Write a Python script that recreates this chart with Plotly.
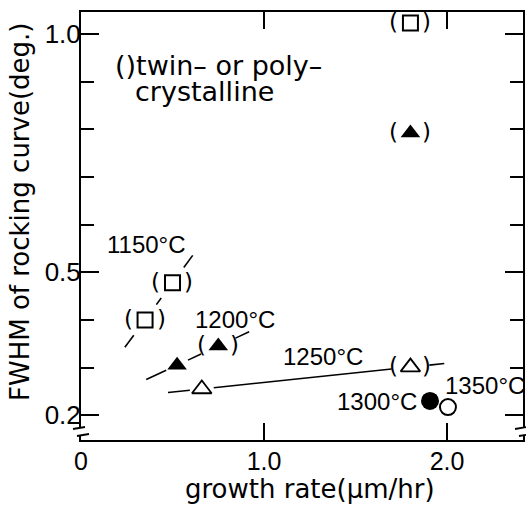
import math
import plotly.graph_objects as go

# ---------------- data ----------------
x_1150 = [0.35, 0.50, 1.80]
y_1150 = [0.400, 0.478, 1.023]
paren_1150 = [True, True, True]

x_1200 = [0.525, 0.75, 1.80]
y_1200 = [0.305, 0.345, 0.792]
paren_1200 = [False, True, True]

x_1250 = [0.66, 1.80]
y_1250 = [0.255, 0.301]
paren_1250 = [False, True]

x_1300 = [1.907]
y_1300 = [0.230]

x_1350 = [2.005]
y_1350 = [0.217]

# number of leading points joined by the guide line in each series
guide_1150 = 2
guide_1200 = 2
guide_1250 = 2

temp_labels = ["1150°C", "1200°C", "1250°C", "1300°C", "1350°C"]
label_x = [0.131, 0.612, 1.093, 1.388, 1.978]
label_y = [0.559, 0.400, 0.324, 0.228, 0.263]

y_tick_vals = [0.2, 0.5, 1.0]
y_tick_text = ["0.2", "0.5", "1.0"]
y_minor_vals = [0.3, 0.4, 0.6, 0.7, 0.8, 0.9]
x_tick_vals = [0, 1, 2]
x_tick_text = ["0", "1.0", "2.0"]

# ---------------- layout geometry ----------------
W, H = 526, 508
ML, MR, MT, MB = 81, 3, 12, 68
PW, PH = W - ML - MR, H - MT - MB
X_RANGE = [0.0, 2.415]
Y_RANGE = [0.148, 1.046]

WORD_FONT = "DejaVu Sans"
NUM_FONT = "Liberation Sans, Arial"


def to_px(x, y):
    px = ML + (x - X_RANGE[0]) / (X_RANGE[1] - X_RANGE[0]) * PW
    py = MT + (Y_RANGE[1] - y) / (Y_RANGE[1] - Y_RANGE[0]) * PH
    return px, py


def to_data(px, py):
    x = X_RANGE[0] + (px - ML) / PW * (X_RANGE[1] - X_RANGE[0])
    y = Y_RANGE[1] - (py - MT) / PH * (Y_RANGE[1] - Y_RANGE[0])
    return x, y


def guide_segments(xs, ys, parens, n, ext=34, gap_paren=19, gap_plain=12):
    pts = [to_px(x, y) for x, y in zip(xs[:n], ys[:n])]
    gaps = [gap_paren if p else gap_plain for p in parens[:n]]

    def unit(a, b):
        dx, dy = b[0] - a[0], b[1] - a[1]
        d = math.hypot(dx, dy)
        return dx / d, dy / d

    u0 = unit(pts[1], pts[0])
    u1 = unit(pts[-2], pts[-1])
    start = (pts[0][0] + ext * u0[0], pts[0][1] + ext * u0[1])
    end = (pts[-1][0] + ext * u1[0], pts[-1][1] + ext * u1[1])
    nodes = [start] + pts + [end]
    ng = [0] + gaps + [0]
    sx, sy = [], []
    for i in range(len(nodes) - 1):
        a, b = nodes[i], nodes[i + 1]
        ux, uy = unit(a, b)
        L = math.hypot(b[0] - a[0], b[1] - a[1])
        if L - ng[i] - ng[i + 1] <= 1:
            continue
        p = (a[0] + ng[i] * ux, a[1] + ng[i] * uy)
        q = (b[0] - ng[i + 1] * ux, b[1] - ng[i + 1] * uy)
        for pp in (p, q):
            dx_, dy_ = to_data(*pp)
            sx.append(dx_)
            sy.append(dy_)
        sx.append(None)
        sy.append(None)
    return sx, sy


fig = go.Figure()

# guide lines
gx, gy = [], []
for xs, ys, ps, n in [(x_1150, y_1150, paren_1150, guide_1150),
                      (x_1200, y_1200, paren_1200, guide_1200),
                      (x_1250, y_1250, paren_1250, guide_1250)]:
    a, b = guide_segments(xs, ys, ps, n)
    gx += a
    gy += b
fig.add_trace(go.Scatter(x=gx, y=gy, mode="lines",
                         line=dict(color="black", width=1.6),
                         hoverinfo="skip", showlegend=False))

# markers
fig.add_trace(go.Scatter(x=x_1150, y=y_1150, mode="markers",
                         marker=dict(symbol="square-open", size=15, color="black",
                                     line=dict(width=2, color="black")),
                         showlegend=False))
fig.add_trace(go.Scatter(x=x_1200, y=y_1200, mode="markers",
                         marker=dict(symbol="triangle-up", size=17, color="black",
                                     line=dict(width=0)),
                         showlegend=False))
fig.add_trace(go.Scatter(x=x_1250, y=y_1250, mode="markers",
                         marker=dict(symbol="triangle-up-open", size=17, color="black",
                                     line=dict(width=1.8, color="black")),
                         showlegend=False))
fig.add_trace(go.Scatter(x=x_1300, y=y_1300, mode="markers",
                         marker=dict(symbol="circle", size=18, color="black",
                                     line=dict(width=0)),
                         showlegend=False))
fig.add_trace(go.Scatter(x=x_1350, y=y_1350, mode="markers",
                         marker=dict(symbol="circle-open", size=16, color="black",
                                     line=dict(width=2, color="black")),
                         showlegend=False))

annotations = []
# parentheses around twin/polycrystalline points
for xs, ys, ps in [(x_1150, y_1150, paren_1150), (x_1200, y_1200, paren_1200),
                   (x_1250, y_1250, paren_1250)]:
    for x, y, p in zip(xs, ys, ps):
        if not p:
            continue
        for t, sh in (("(", -17), (")", 16)):
            annotations.append(dict(x=x, y=y, xref="x", yref="y", text=t, showarrow=False,
                                    xshift=sh, yshift=1,
                                    font=dict(family=WORD_FONT, size=23, color="black")))

# temperature labels
for t, x, y in zip(temp_labels, label_x, label_y):
    annotations.append(dict(x=x, y=y, xref="x", yref="y", text=t, showarrow=False,
                            xanchor="left", yanchor="middle",
                            font=dict(family=NUM_FONT, size=24, color="black")))

# legend-like note
annotations.append(dict(x=0.175, y=0.933, xref="x", yref="y", text="()twin– or poly–",
                        showarrow=False, xanchor="left", yanchor="middle",
                        font=dict(family=WORD_FONT, size=27, color="black")))
annotations.append(dict(x=0.284, y=0.880, xref="x", yref="y", text="crystalline",
                        showarrow=False, xanchor="left", yanchor="middle",
                        font=dict(family=WORD_FONT, size=27, color="black")))

# axis titles
annotations.append(dict(x=(310 - ML) / PW, y=(MT + PH - 489) / PH, xref="paper", yref="paper",
                        text="growth rate(μm/hr)", showarrow=False,
                        xanchor="center", yanchor="middle",
                        font=dict(family=WORD_FONT, size=26, color="black")))
annotations.append(dict(x=(20 - ML) / PW, y=(MT + PH - 212) / PH, xref="paper", yref="paper",
                        text="FWHM of rocking curve(deg.)", showarrow=False, textangle=-90,
                        xanchor="center", yanchor="middle",
                        font=dict(family=WORD_FONT, size=26, color="black")))

# axis-break marks (left and right axes)
shapes = []
for side in (0, 1):
    xd = side
    shapes.append(dict(type="rect", xref="x domain", yref="y domain",
                       x0=xd - 3 / PW, x1=xd + 3 / PW,
                       y0=(MT + PH - 435) / PH, y1=(MT + PH - 428) / PH,
                       fillcolor="white", line=dict(width=0), layer="above"))
    for (pxa, pya, pxb, pyb) in [(-8, 429, 4, 427), (-4, 436, 8, 434)]:
        shapes.append(dict(type="line", xref="x domain", yref="y domain",
                           x0=xd + pxa / PW, x1=xd + pxb / PW,
                           y0=(MT + PH - pya) / PH, y1=(MT + PH - pyb) / PH,
                           line=dict(color="black", width=1.8), layer="above"))

fig.update_layout(
    width=W, height=H,
    margin=dict(l=ML, r=MR, t=MT, b=MB, autoexpand=False),
    paper_bgcolor="white", plot_bgcolor="white",
    showlegend=False,
    annotations=annotations,
    shapes=shapes,
    xaxis=dict(range=X_RANGE, showgrid=False, zeroline=False, automargin=False,
               showline=True, linecolor="black", linewidth=2, mirror="ticks",
               ticks="inside", ticklen=17, tickwidth=2, tickcolor="black",
               tickvals=x_tick_vals, ticktext=x_tick_text, ticklabelstandoff=-2,
               tickfont=dict(family=NUM_FONT, size=25, color="black")),
    yaxis=dict(range=Y_RANGE, showgrid=False, zeroline=False, automargin=False,
               showline=True, linecolor="black", linewidth=2, mirror="ticks",
               ticks="inside", ticklen=18, tickwidth=2, tickcolor="black",
               tickvals=y_tick_vals, ticktext=y_tick_text, ticklabelstandoff=-7,
               tickfont=dict(family=NUM_FONT, size=26, color="black"),
               minor=dict(tickmode="array", tickvals=y_minor_vals, ticks="inside",
                          ticklen=13, tickwidth=2, tickcolor="black", showgrid=False)),
)

fig.write_html("out.html", config={"displayModeBar": False},
               post_script="document.body.style.margin='0';document.body.style.overflow='hidden';")
